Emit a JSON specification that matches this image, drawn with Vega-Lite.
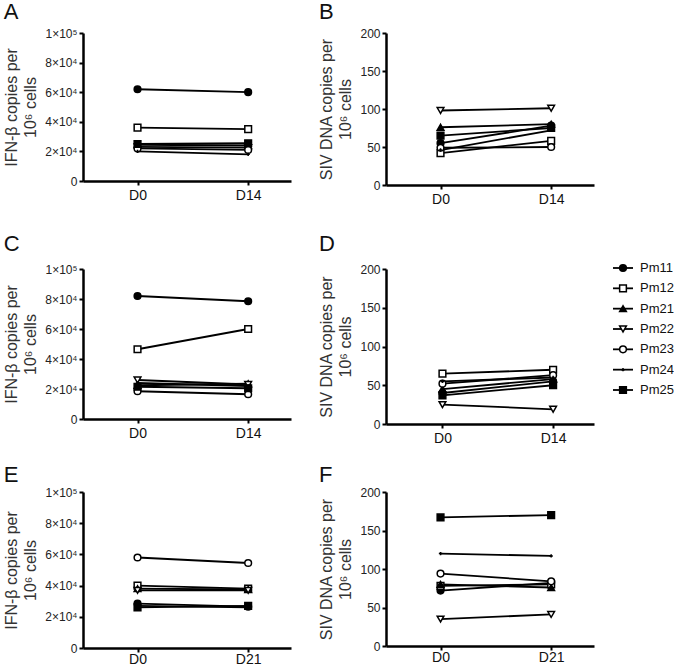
{
"$schema":"https://vega.github.io/schema/vega-lite/v6.json",
"background":"white",
"padding":{"left":3,"top":1,"right":0,"bottom":0},
"config":{
 "font":"Liberation Sans",
 "view":{"stroke":null},
 "axis":{"grid":false,"domainColor":"black","domainWidth":2.5,"tickColor":"black","tickWidth":2,"tickSize":4,"labelFont":"Liberation Sans","labelFontSize":12,"labelColor":"#222","titleFont":"Liberation Sans","titleFontSize":16,"titleFontWeight":"normal","titleColor":"#333","titleLineHeight":19},
 "title":{"font":"Liberation Sans","fontSize":22,"fontWeight":"normal","anchor":"start","color":"#111","offset":3},
 "concat":{"spacing":27}
},
"datasets":{"pts":[
 {"panel":"A","series":"Pm11","day":"D0","value":62000},{"panel":"A","series":"Pm11","day":"D14","value":60000},
 {"panel":"A","series":"Pm12","day":"D0","value":36000},{"panel":"A","series":"Pm12","day":"D14","value":35000},
 {"panel":"A","series":"Pm21","day":"D0","value":24500},{"panel":"A","series":"Pm21","day":"D14","value":24000},
 {"panel":"A","series":"Pm22","day":"D0","value":23000},{"panel":"A","series":"Pm22","day":"D14","value":22500},
 {"panel":"A","series":"Pm23","day":"D0","value":22000},{"panel":"A","series":"Pm23","day":"D14","value":21000},
 {"panel":"A","series":"Pm24","day":"D0","value":20000},{"panel":"A","series":"Pm24","day":"D14","value":18000},
 {"panel":"A","series":"Pm25","day":"D0","value":25000},{"panel":"A","series":"Pm25","day":"D14","value":25500},
 {"panel":"B","series":"Pm11","day":"D0","value":55},{"panel":"B","series":"Pm11","day":"D14","value":78},
 {"panel":"B","series":"Pm12","day":"D0","value":42},{"panel":"B","series":"Pm12","day":"D14","value":58},
 {"panel":"B","series":"Pm21","day":"D0","value":76},{"panel":"B","series":"Pm21","day":"D14","value":80},
 {"panel":"B","series":"Pm22","day":"D0","value":98},{"panel":"B","series":"Pm22","day":"D14","value":101},
 {"panel":"B","series":"Pm23","day":"D0","value":49},{"panel":"B","series":"Pm23","day":"D14","value":50},
 {"panel":"B","series":"Pm24","day":"D0","value":46},{"panel":"B","series":"Pm24","day":"D14","value":72},
 {"panel":"B","series":"Pm25","day":"D0","value":65},{"panel":"B","series":"Pm25","day":"D14","value":75},
 {"panel":"C","series":"Pm11","day":"D0","value":82000},{"panel":"C","series":"Pm11","day":"D14","value":78500},
 {"panel":"C","series":"Pm12","day":"D0","value":46500},{"panel":"C","series":"Pm12","day":"D14","value":60000},
 {"panel":"C","series":"Pm21","day":"D0","value":22500},{"panel":"C","series":"Pm21","day":"D14","value":23500},
 {"panel":"C","series":"Pm22","day":"D0","value":26000},{"panel":"C","series":"Pm22","day":"D14","value":23000},
 {"panel":"C","series":"Pm23","day":"D0","value":18500},{"panel":"C","series":"Pm23","day":"D14","value":16500},
 {"panel":"C","series":"Pm24","day":"D0","value":24000},{"panel":"C","series":"Pm24","day":"D14","value":22000},
 {"panel":"C","series":"Pm25","day":"D0","value":21500},{"panel":"C","series":"Pm25","day":"D14","value":20500},
 {"panel":"D","series":"Pm11","day":"D0","value":40},{"panel":"D","series":"Pm11","day":"D14","value":55},
 {"panel":"D","series":"Pm12","day":"D0","value":65},{"panel":"D","series":"Pm12","day":"D14","value":70},
 {"panel":"D","series":"Pm21","day":"D0","value":45},{"panel":"D","series":"Pm21","day":"D14","value":58},
 {"panel":"D","series":"Pm22","day":"D0","value":25},{"panel":"D","series":"Pm22","day":"D14","value":19},
 {"panel":"D","series":"Pm23","day":"D0","value":52},{"panel":"D","series":"Pm23","day":"D14","value":63},
 {"panel":"D","series":"Pm24","day":"D0","value":55},{"panel":"D","series":"Pm24","day":"D14","value":60},
 {"panel":"D","series":"Pm25","day":"D0","value":37},{"panel":"D","series":"Pm25","day":"D14","value":50},
 {"panel":"E","series":"Pm11","day":"D0","value":28500},{"panel":"E","series":"Pm11","day":"D21","value":26500},
 {"panel":"E","series":"Pm12","day":"D0","value":40000},{"panel":"E","series":"Pm12","day":"D21","value":38000},
 {"panel":"E","series":"Pm21","day":"D0","value":38000},{"panel":"E","series":"Pm21","day":"D21","value":37500},
 {"panel":"E","series":"Pm22","day":"D0","value":37000},{"panel":"E","series":"Pm22","day":"D21","value":37000},
 {"panel":"E","series":"Pm23","day":"D0","value":58000},{"panel":"E","series":"Pm23","day":"D21","value":54500},
 {"panel":"E","series":"Pm24","day":"D0","value":27000},{"panel":"E","series":"Pm24","day":"D21","value":26000},
 {"panel":"E","series":"Pm25","day":"D0","value":26000},{"panel":"E","series":"Pm25","day":"D21","value":27000},
 {"panel":"F","series":"Pm11","day":"D0","value":72},{"panel":"F","series":"Pm11","day":"D21","value":82},
 {"panel":"F","series":"Pm12","day":"D0","value":78},{"panel":"F","series":"Pm12","day":"D21","value":80},
 {"panel":"F","series":"Pm21","day":"D0","value":80},{"panel":"F","series":"Pm21","day":"D21","value":76},
 {"panel":"F","series":"Pm22","day":"D0","value":35},{"panel":"F","series":"Pm22","day":"D21","value":41},
 {"panel":"F","series":"Pm23","day":"D0","value":94},{"panel":"F","series":"Pm23","day":"D21","value":84},
 {"panel":"F","series":"Pm24","day":"D0","value":120},{"panel":"F","series":"Pm24","day":"D21","value":117},
 {"panel":"F","series":"Pm25","day":"D0","value":167},{"panel":"F","series":"Pm25","day":"D21","value":170}
]},
"data":{"name":"pts"},
"vconcat":[
 {"hconcat":[
  {"width":208,"height":148,"title":"A","transform":[{"filter":"datum.panel==='A'"}],
   "encoding":{"x":{"field":"day","type":"ordinal","scale":{"type":"point","padding":0.44,"align":0.56},"axis":{"title":null,"labelAngle":0,"labelPadding":3,"labelFontSize":14,"labelColor":"#111"}},
    "y":{"field":"value","type":"quantitative","scale":{"domain":[0,100000],"nice":false},"axis":{"values":[0,20000,40000,60000,80000,100000],"labelExpr":"datum.value === 0 ? '0' : datum.value === 100000 ? '1×10⁵' : format(datum.value/10000,'d') + '×10⁴'","title":["IFN-β copies per","10⁶ cells"],"titlePadding":6}}},
   "layer":[
    {"mark":{"type":"line","color":"black","strokeWidth":1.8},"encoding":{"detail":{"field":"series"}}},
    {"mark":{"type":"point","filled":true,"stroke":"black","strokeWidth":1.5,"size":45,"opacity":1},"encoding":{"shape":{"field":"series","type":"nominal","legend":null,"scale":{"domain":["Pm11","Pm12","Pm21","Pm22","Pm23","Pm24","Pm25"],"range":["circle","square","triangle-up","triangle-down","circle","M-0.5,0L0.5,0M0,-0.5L0,0.5","square"]}},"fill":{"field":"series","type":"nominal","legend":null,"scale":{"domain":["Pm11","Pm12","Pm21","Pm22","Pm23","Pm24","Pm25"],"range":["black","white","black","white","white","black","black"]}}}}
   ]},
  {"width":208,"height":152,"title":"B","transform":[{"filter":"datum.panel==='B'"}],
   "encoding":{"x":{"field":"day","type":"ordinal","scale":{"type":"point","padding":0.44,"align":0.56},"axis":{"title":null,"labelAngle":0,"labelPadding":3,"labelFontSize":14,"labelColor":"#111"}},
    "y":{"field":"value","type":"quantitative","scale":{"domain":[0,200],"nice":false},"axis":{"values":[0,50,100,150,200],"title":["SIV DNA copies per","10⁶ cells"],"titlePadding":6}}},
   "layer":[
    {"mark":{"type":"line","color":"black","strokeWidth":1.8},"encoding":{"detail":{"field":"series"}}},
    {"mark":{"type":"point","filled":true,"stroke":"black","strokeWidth":1.5,"size":45,"opacity":1},"encoding":{"shape":{"field":"series","type":"nominal","legend":null,"scale":{"domain":["Pm11","Pm12","Pm21","Pm22","Pm23","Pm24","Pm25"],"range":["circle","square","triangle-up","triangle-down","circle","M-0.5,0L0.5,0M0,-0.5L0,0.5","square"]}},"fill":{"field":"series","type":"nominal","legend":null,"scale":{"domain":["Pm11","Pm12","Pm21","Pm22","Pm23","Pm24","Pm25"],"range":["black","white","black","white","white","black","black"]}}}}
   ]}
 ]},
 {"spacing":19,"vconcat":[
 {"spacing":18,"hconcat":[
  {"spacing":27,"hconcat":[
  {"width":208,"height":150,"title":{"text":"C","offset":7},"transform":[{"filter":"datum.panel==='C'"}],
   "encoding":{"x":{"field":"day","type":"ordinal","scale":{"type":"point","padding":0.44,"align":0.56},"axis":{"title":null,"labelAngle":0,"labelPadding":3,"labelFontSize":14,"labelColor":"#111"}},
    "y":{"field":"value","type":"quantitative","scale":{"domain":[0,100000],"nice":false},"axis":{"values":[0,20000,40000,60000,80000,100000],"labelExpr":"datum.value === 0 ? '0' : datum.value === 100000 ? '1×10⁵' : format(datum.value/10000,'d') + '×10⁴'","title":["IFN-β copies per","10⁶ cells"],"titlePadding":6}}},
   "layer":[
    {"mark":{"type":"line","color":"black","strokeWidth":1.8},"encoding":{"detail":{"field":"series"}}},
    {"mark":{"type":"point","filled":true,"stroke":"black","strokeWidth":1.5,"size":45,"opacity":1},"encoding":{"shape":{"field":"series","type":"nominal","legend":null,"scale":{"domain":["Pm11","Pm12","Pm21","Pm22","Pm23","Pm24","Pm25"],"range":["circle","square","triangle-up","triangle-down","circle","M-0.5,0L0.5,0M0,-0.5L0,0.5","square"]}},"fill":{"field":"series","type":"nominal","legend":null,"scale":{"domain":["Pm11","Pm12","Pm21","Pm22","Pm23","Pm24","Pm25"],"range":["black","white","black","white","white","black","black"]}}}}
   ]},
  {"width":208,"height":155,"title":{"text":"D","offset":7},"transform":[{"filter":"datum.panel==='D'"}],
   "encoding":{"x":{"field":"day","type":"ordinal","scale":{"type":"point","padding":0.44,"align":0.58},"axis":{"title":null,"labelAngle":0,"labelPadding":3,"labelFontSize":14,"labelColor":"#111"}},
    "y":{"field":"value","type":"quantitative","scale":{"domain":[0,200],"nice":false},"axis":{"values":[0,50,100,150,200],"title":["SIV DNA copies per","10⁶ cells"],"titlePadding":6}}},
   "layer":[
    {"mark":{"type":"line","color":"black","strokeWidth":1.8},"encoding":{"detail":{"field":"series"}}},
    {"mark":{"type":"point","filled":true,"stroke":"black","strokeWidth":1.5,"size":45,"opacity":1},"encoding":{"shape":{"field":"series","type":"nominal","legend":null,"scale":{"domain":["Pm11","Pm12","Pm21","Pm22","Pm23","Pm24","Pm25"],"range":["circle","square","triangle-up","triangle-down","circle","M-0.5,0L0.5,0M0,-0.5L0,0.5","square"]}},"fill":{"field":"series","type":"nominal","legend":null,"scale":{"domain":["Pm11","Pm12","Pm21","Pm22","Pm23","Pm24","Pm25"],"range":["black","white","black","white","white","black","black"]}}}}
   ]}
  ]},
  {"width":20,"height":125,"transform":[{"filter":"datum.panel==='A' && datum.day==='D0'"}],
   "encoding":{"y":{"field":"series","type":"nominal","scale":{"type":"point","padding":0,"domain":["Pm11","Pm12","Pm21","Pm22","Pm23","Pm24","Pm25"],"range":[-1,121]},"axis":null}},
   "layer":[
    {"mark":{"type":"rule","color":"black","strokeWidth":1.8},"encoding":{"x":{"datum":0,"type":"quantitative","scale":{"domain":[0,1],"range":[0,20]},"axis":null},"x2":{"datum":1}}},
    {"mark":{"type":"point","filled":true,"stroke":"black","strokeWidth":1.5,"size":45,"opacity":1},"encoding":{"x":{"datum":0.5,"type":"quantitative"},"shape":{"field":"series","type":"nominal","legend":null,"scale":{"domain":["Pm11","Pm12","Pm21","Pm22","Pm23","Pm24","Pm25"],"range":["circle","square","triangle-up","triangle-down","circle","M-0.5,0L0.5,0M0,-0.5L0,0.5","square"]}},"fill":{"field":"series","type":"nominal","legend":null,"scale":{"domain":["Pm11","Pm12","Pm21","Pm22","Pm23","Pm24","Pm25"],"range":["black","white","black","white","white","black","black"]}}}},
    {"mark":{"type":"text","align":"left","baseline":"middle","dx":7,"fontSize":13,"color":"#111"},"encoding":{"x":{"datum":1,"type":"quantitative"},"text":{"field":"series"}}}
   ]}
 ]},
 {"hconcat":[
  {"width":208,"height":156,"title":{"text":"E","offset":-1},"transform":[{"filter":"datum.panel==='E'"}],
   "encoding":{"x":{"field":"day","type":"ordinal","scale":{"type":"point","padding":0.44,"align":0.56},"axis":{"title":null,"labelAngle":0,"labelPadding":0,"labelFontSize":14,"labelColor":"#111"}},
    "y":{"field":"value","type":"quantitative","scale":{"domain":[0,100000],"nice":false},"axis":{"values":[0,20000,40000,60000,80000,100000],"labelExpr":"datum.value === 0 ? '0' : datum.value === 100000 ? '1×10⁵' : format(datum.value/10000,'d') + '×10⁴'","title":["IFN-β copies per","10⁶ cells"],"titlePadding":6}}},
   "layer":[
    {"mark":{"type":"line","color":"black","strokeWidth":1.8},"encoding":{"detail":{"field":"series"}}},
    {"mark":{"type":"point","filled":true,"stroke":"black","strokeWidth":1.5,"size":45,"opacity":1},"encoding":{"shape":{"field":"series","type":"nominal","legend":null,"scale":{"domain":["Pm11","Pm12","Pm21","Pm22","Pm23","Pm24","Pm25"],"range":["circle","square","triangle-up","triangle-down","circle","M-0.5,0L0.5,0M0,-0.5L0,0.5","square"]}},"fill":{"field":"series","type":"nominal","legend":null,"scale":{"domain":["Pm11","Pm12","Pm21","Pm22","Pm23","Pm24","Pm25"],"range":["black","white","black","white","white","black","black"]}}}}
   ]},
  {"width":208,"height":154,"title":{"text":"F","offset":-1},"transform":[{"filter":"datum.panel==='F'"}],
   "encoding":{"x":{"field":"day","type":"ordinal","scale":{"type":"point","padding":0.44,"align":0.56},"axis":{"title":null,"labelAngle":0,"labelPadding":0,"labelFontSize":14,"labelColor":"#111"}},
    "y":{"field":"value","type":"quantitative","scale":{"domain":[0,200],"nice":false},"axis":{"values":[0,50,100,150,200],"title":["SIV DNA copies per","10⁶ cells"],"titlePadding":6}}},
   "layer":[
    {"mark":{"type":"line","color":"black","strokeWidth":1.8},"encoding":{"detail":{"field":"series"}}},
    {"mark":{"type":"point","filled":true,"stroke":"black","strokeWidth":1.5,"size":45,"opacity":1},"encoding":{"shape":{"field":"series","type":"nominal","legend":null,"scale":{"domain":["Pm11","Pm12","Pm21","Pm22","Pm23","Pm24","Pm25"],"range":["circle","square","triangle-up","triangle-down","circle","M-0.5,0L0.5,0M0,-0.5L0,0.5","square"]}},"fill":{"field":"series","type":"nominal","legend":null,"scale":{"domain":["Pm11","Pm12","Pm21","Pm22","Pm23","Pm24","Pm25"],"range":["black","white","black","white","white","black","black"]}}}}
   ]}
 ]}
 ]}
]
}
